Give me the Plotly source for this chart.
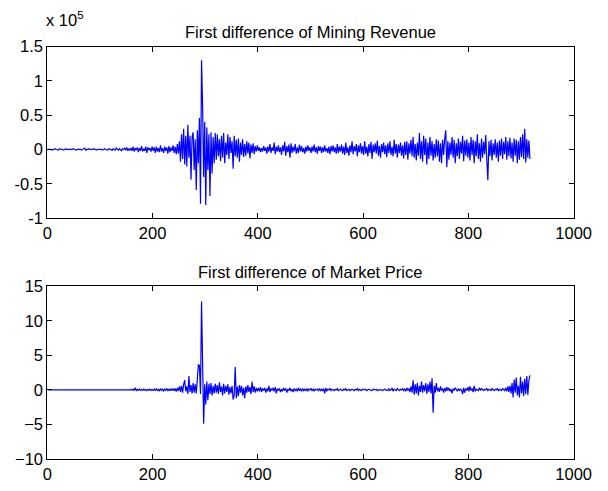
import plotly.graph_objects as go

# First difference of Mining Revenue, in thousands (x 10^3); plotted in units of 10^5
revenue_k = [
    0, 0, 1, 0, -1, 0, 0, 1, 0, 0, -1, 1, 0, 0, 0, -1, 0, 1, 0, 0,
    0, -1, 0, 0, 1, 0, 0, -1, 0, 0, 1, 0, -1, 0, 0, 2, -1, 0, 0, 1,
    0, 0, -1, 0, 1, 0, -1, 0, 0, 1, 0, 0, -1, 0, 1, 0, 0, -1, 1, 0,
    0, -1, 1, 0, -1, 2, 0, -1, 1, 0, -2, 1, 0, 2, -1, 3, -2, 1, -1, 2,
    -2, 4, -3, 2, -1, 3, -4, 2, -2, 5, -3, 1, -2, 4, -5, 3, -1, 2, -3, 4,
    -2, 3, -5, 4, -3, 2, -4, 6, -3, 2, -5, 4, -2, 3, -6, 5, -4, 3, -2, 6,
    -5, 4, -7, 8, -6, 12, -18, 22, -14, 30, -22, 20, -25, 36, -12, 20, -44, 18, 25, -30,
    15, -59, 28, -20, 46, -79, 130, 62, -40, 40, -81, 32, -30, 22, -68, 25, -35, 18, -20, 24,
    -15, 22, -10, 15, -17, 20, -12, 24, -20, 10, -8, 22, -14, 18, -5, 12, -28, 20, -10, 14,
    -12, 16, -18, 10, -8, 15, -11, 8, -9, 12, -6, 10, -13, 7, -5, 9, -7, 5, -3, 6,
    -2, 3, -4, 2, -3, 5, -2, 3, -6, 4, -3, 8, -5, 3, -2, 10, -7, 4, -3, 6,
    -4, 3, -8, 6, -3, 11, -9, 5, -4, 7, -12, 9, -5, 4, -3, 8, -6, 3, -5, 7,
    -3, 5, -4, 2, -6, 4, -3, 6, -2, 3, -5, 4, -3, 7, -4, 3, -6, 5, -2, 4,
    -5, 3, -4, 6, -3, 2, -5, 4, -7, 5, -3, 6, -4, 3, -6, 8, -5, 4, -3, 7,
    -6, 4, -8, 10, -5, 3, -9, 6, -4, 12, -7, 5, -3, 8, -10, 6, -4, 9, -6, 5,
    -8, 12, -6, 4, -10, 8, -5, 11, -14, 7, -4, 9, -6, 13, -9, 5, -12, 8, -4, 10,
    -7, 6, -11, 9, -5, 12, -8, 4, -10, 14, -6, 8, -12, 7, -5, 10, -9, 6, -13, 11,
    -8, 12, -15, 9, -6, 14, -10, 18, -12, 8, -16, 10, -9, 24, -14, 12, -18, 20, -8, 16,
    -22, 10, -14, 18, -9, 12, -16, 8, -12, 15, -10, 13, -18, 9, -20, 14, -8, 16, 28, -26,
    12, -15, 10, -8, 18, -12, 14, -20, 9, -10, 16, -14, 11, -6, 20, -17, 13, -9, 15, -12,
    10, -16, 18, -8, 14, -20, 12, -10, 22, -14, 9, -18, 16, -12, 11, -7, 21, -15, -45, 12,
    -10, 14, -16, 9, -8, 15, -12, 10, -18, 13, -9, 16, -14, 11, -7, 18, -15, 12, -10, 17,
    -13, 10, -18, 16, -9, 14, -20, 12, -15, 18, -11, 22, -14, 30, -19, 15, -12, 13, -14,
]

# First difference of Market Price
price = [
    0, 0, 0.02, 0, -0.02, 0, 0, 0, 0.03, 0, 0, -0.02, 0, 0, 0, 0.02, 0, 0, 0, 0,
    0, 0.02, 0, 0, -0.03, 0, 0, 0, 0.02, 0, 0, 0, -0.02, 0, 0.03, 0, 0, 0, 0, 0.02,
    0, 0, -0.02, 0, 0, 0.03, 0, 0, 0, -0.02, 0, 0, 0.02, 0, 0, 0, -0.03, 0, 0, 0.02,
    0, -0.02, 0, 0.03, 0, 0, -0.04, 0.02, 0, 0.05, -0.03, 0, 0.04, -0.02, 0.03, 0, -0.05, 0.04, 0, 0.06,
    -0.04, 0.1, -0.05, 0.3, -0.1, 0.08, -0.06, 0.12, -0.04, 0.05, -0.08, 0.1, -0.05, 0.06, -0.1, 0.08, -0.04, 0.12, -0.06, 0.05,
    -0.08, 0.1, -0.05, 0.15, -0.1, 0.06, -0.12, 0.2, -0.08, 0.1, -0.15, 0.12, -0.06, 0.18, -0.1, 0.08, -0.14, 0.22, -0.1, 0.15,
    -0.12, 0.2, -0.25, 0.3, -0.15, 0.5, -0.3, 0.6, -0.4, 0.8, 1.4, -0.2, 0.5, -0.6, 2.0, -0.3, 0.7, -0.5, 1.0, -0.4,
    0.8, -0.5, 1.2, 3.7, 3.5, -0.6, 12.8, 3.4, -4.9, 0.8, -2.1, 1.2, -1.5, 0.9, -0.6, 1.0, -0.8, 0.6, -0.5, 0.9,
    -0.4, 0.7, -0.6, 1.1, -0.3, 0.5, -0.8, 0.9, -0.5, 0.6, -0.3, 0.8, -0.7, 0.4, -0.5, 0.6, -1.4, -0.8, 3.3, -1.2,
    0.5, -0.9, 0.7, -0.4, 0.6, -0.8, 0.3, -1.2, 0.5, -0.4, 0.7, -0.3, 0.4, -0.6, 1.2, -0.3, 0.5, -0.4, 0.3, -0.2,
    0.3, -0.2, 0.4, -0.3, 0.2, -0.1, 0.3, -0.4, 0.2, -0.2, 0.6, -0.3, 0.2, -0.1, 0.3, -0.2, 0.4, -0.5, 0.2, -0.1,
    0.2, -0.3, 0.1, -0.2, 0.3, -0.1, 0.2, -0.4, 0.1, -0.1, 0.3, -0.2, 0.1, -0.3, 0.2, -0.1, 0.1, -0.2, 0.3, -0.1,
    0.1, -0.2, 0.2, -0.1, 0.1, -0.1, 0.2, -0.2, 0.1, 0, 0.2, -0.1, 0.1, -0.2, 0.1, 0, 0.1, -0.1, 0.2, -0.1,
    0.1, -0.1, 0.2, -0.5, 0.3, -0.2, 0.1, 0, 0.2, -0.1, 0.1, 0, -0.1, 0.1, 0, 0.2, -0.1, 0, 0.1, 0,
    -0.1, 0.1, 0, 0.2, -0.1, 0, 0.1, -0.1, 0, 0.1, 0, -0.1, 0.1, 0, 0.2, -0.1, 0.1, 0, -0.1, 0.1,
    0, 0, 0.1, -0.1, 0, 0.1, 0, 0, -0.1, 0.1, 0, 0, 0.1, -0.1, 0, 0, 0.1, 0, -0.1, 0,
    0.1, 0, 0, -0.1, 0.2, -0.1, 0, 0.3, -0.2, 0.1, 0, -0.1, 0.2, 0, -0.1, 0.1, 0, 0.2, -0.1, 0.1,
    -0.2, 0.3, -0.1, 0.2, -0.3, 0.5, -0.4, 1.4, -0.7, 0.8, -0.5, 1.0, -0.8, 0.6, -0.3, 1.2, -0.4, 0.7, -0.2, 1.0,
    -0.6, 0.8, -0.3, 1.2, -0.5, 1.7, -3.3, 0.6, -0.4, 1.0, -0.2, 0.3, -0.3, 0.5, -0.1, 0.2, -0.4, 0.3, -0.2, 0.4,
    -0.1, 0.3, -0.2, 0.1, -0.5, 0.2, -0.1, 0.3, 0, -0.2, 0.2, -0.1, 0.1, 0, -0.6, 0.3, -0.4, 0.2, -0.1, 0.4,
    -0.2, 0.5, -0.1, 0.2, -0.3, 0.6, -0.2, 0.1, 0, -0.1, 0.3, -0.1, 0.2, 0, -0.1, 0.1, 0, 0.2, -0.1, 0.1,
    0, -0.1, 0.2, 0, -0.1, 0.1, 0, 0.2, -0.1, 0.1, 0, -0.1, 0.2, 0.1, -0.1, 0.3, -0.2, 0.5, -0.3, 0.6,
    -0.5, 1.0, -1.1, 1.5, -0.4, 1.8, -0.8, 0.6, -1.1, 1.9, -0.5, 1.2, -0.9, 1.6, -0.6, 2.0, -0.7, 1.4, 2.1,
]

x_rev = [1 + 2 * i for i in range(len(revenue_k))]
x_price = [1 + 2 * i for i in range(len(price))]
rev_e5 = [v / 100.0 for v in revenue_k]

x_ticks = [0, 200, 400, 600, 800, 1000]
top_yticks = [-1, -0.5, 0, 0.5, 1, 1.5]
top_ylabels = ["-1", "-0.5", "0", "0.5", "1", "1.5"]
bot_yticks = [-10, -5, 0, 5, 10, 15]

W, H = 608, 491
FONT = "Liberation Sans, Arial, Helvetica, sans-serif"
FS = 16.5

fig = go.Figure()
fig.add_trace(go.Scatter(x=x_rev, y=rev_e5, mode="lines",
                         line=dict(color="#0000ff", width=1.2), xaxis="x", yaxis="y"))
fig.add_trace(go.Scatter(x=x_price, y=price, mode="lines",
                         line=dict(color="#0000ff", width=1.2), xaxis="x2", yaxis="y2"))

xdom = [44 / W, 591 / W]
top_dom = [(H - 217) / H, (H - 39) / H]
bot_dom = [(H - 467) / H, (H - 288) / H]

axis_common = dict(showline=True, linecolor="black", linewidth=1, mirror="ticks",
                   ticks="inside", ticklen=5, tickcolor="black", tickwidth=1,
                   showgrid=False, zeroline=False, ticklabeloverflow="allow",
                   tickfont=dict(family=FONT, size=FS, color="black"))

fig.update_layout(
    width=W, height=H, autosize=False,
    margin=dict(l=0, r=0, t=0, b=0),
    paper_bgcolor="white", plot_bgcolor="white",
    showlegend=False,
    font=dict(family=FONT, size=FS, color="black"),
    xaxis=dict(domain=xdom, range=[0, 1000], tickvals=x_ticks, anchor="y", **axis_common),
    yaxis=dict(domain=top_dom, range=[-1, 1.5], tickvals=top_yticks, ticktext=top_ylabels,
               anchor="x", **axis_common),
    xaxis2=dict(domain=xdom, range=[0, 1000], tickvals=x_ticks, anchor="y2", **axis_common),
    yaxis2=dict(domain=bot_dom, range=[-10, 15], tickvals=bot_yticks, anchor="x2", **axis_common),
)

xmid = (xdom[0] + xdom[1]) / 2
fig.add_annotation(text="First difference of Mining Revenue", xref="paper", yref="paper",
                   x=xmid, y=(H - 24) / H, xanchor="center", yanchor="middle",
                   showarrow=False, font=dict(family=FONT, size=FS, color="black"))
fig.add_annotation(text="First difference of Market Price", xref="paper", yref="paper",
                   x=xmid, y=(H - 273) / H, xanchor="center", yanchor="middle",
                   showarrow=False, font=dict(family=FONT, size=FS, color="black"))
fig.add_annotation(text="x 10<sup>5</sup>", xref="paper", yref="paper",
                   x=41 / W, y=(H - 10) / H, xanchor="left", yanchor="middle",
                   showarrow=False, font=dict(family=FONT, size=FS, color="black"))

fig.write_html("out.html")
